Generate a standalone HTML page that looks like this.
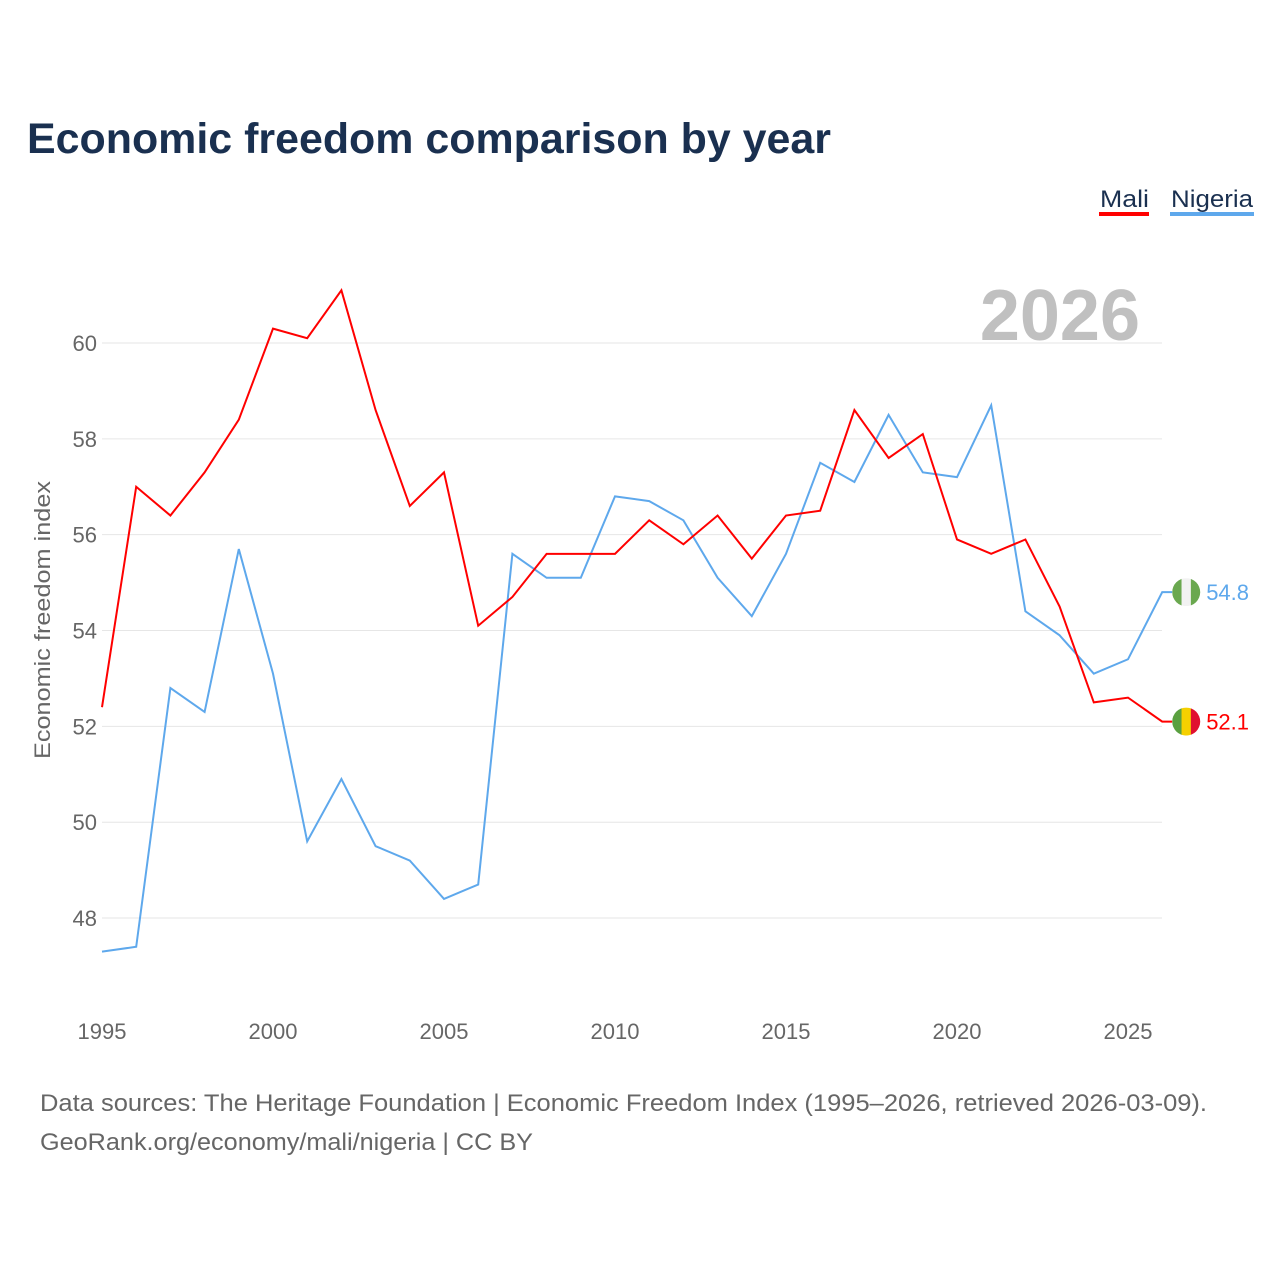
<!DOCTYPE html>
<html><head><meta charset="utf-8"><style>
body{margin:0;background:#fff;font-family:"Liberation Sans",sans-serif;}
svg text{font-family:"Liberation Sans",sans-serif;}
</style></head><body>
<svg id="chart" width="1280" height="1280" viewBox="0 0 1280 1280">
<text x="27" y="153" font-size="43" font-weight="bold" fill="#1a3050" textLength="804" lengthAdjust="spacingAndGlyphs">Economic freedom comparison by year</text>
<g><text x="1100" y="207" font-size="24" fill="#1a3050" textLength="49" lengthAdjust="spacingAndGlyphs">Mali</text><rect x="1099" y="212" width="50" height="4" fill="#ff0000"/></g>
<g><text x="1171" y="207" font-size="24" fill="#1a3050" textLength="82" lengthAdjust="spacingAndGlyphs">Nigeria</text><rect x="1170" y="212" width="84" height="4" fill="#5ea8ec"/></g>
<text x="1140" y="340" font-size="72" font-weight="bold" fill="#c0c0c0" text-anchor="end">2026</text>
<g id="grid"></g><g id="series"></g>
<text transform="translate(50,620) rotate(-90)" font-size="22" fill="#666" text-anchor="middle" textLength="278" lengthAdjust="spacingAndGlyphs">Economic freedom index</text>
<text x="40" y="1111" font-size="24" fill="#666" textLength="1167" lengthAdjust="spacingAndGlyphs">Data sources: The Heritage Foundation | Economic Freedom Index (1995–2026, retrieved 2026-03-09).</text>
<text x="40" y="1150" font-size="24" fill="#666" textLength="493" lengthAdjust="spacingAndGlyphs">GeoRank.org/economy/mali/nigeria | CC BY</text>
</svg>
<script>
const years=[1995,1996,1997,1998,1999,2000,2001,2002,2003,2004,2005,2006,2007,2008,2009,2010,2011,2012,2013,2014,2015,2016,2017,2018,2019,2020,2021,2022,2023,2024,2025,2026];
const mali=[52.4,57.0,56.4,57.3,58.4,60.3,60.1,61.1,58.6,56.6,57.3,54.1,54.7,55.6,55.6,55.6,56.3,55.8,56.4,55.5,56.4,56.5,58.6,57.6,58.1,55.9,55.6,55.9,54.5,52.5,52.6,52.1];
const nigeria=[47.3,47.4,52.8,52.3,55.7,53.1,49.6,50.9,49.5,49.2,48.4,48.7,55.6,55.1,55.1,56.8,56.7,56.3,55.1,54.3,55.6,57.5,57.1,58.5,57.3,57.2,58.7,54.4,53.9,53.1,53.4,54.8];
const yTicks=[48,50,52,54,56,58,60];
const xTicks=[1995,2000,2005,2010,2015,2020,2025];
const X=y=>102+(y-1995)*34.2;
const Y=v=>343+(60-v)*47.92;
const NS="http://www.w3.org/2000/svg";
const grid=document.getElementById('grid'),ser=document.getElementById('series');
function mk(tag,attrs,parent){const e=document.createElementNS(NS,tag);for(const k in attrs)e.setAttribute(k,attrs[k]);parent.appendChild(e);return e;}
yTicks.forEach(t=>{
 const l=mk('line',{x1:102,x2:1162,y1:Y(t),y2:Y(t),stroke:'#e6e6e6','stroke-width':1},grid);
 
 
 const tx=mk('text',{x:97,y:Y(t)+8,'font-size':22,fill:'#666','text-anchor':'end'},grid);tx.textContent=t;
 
 
});
xTicks.forEach(t=>{
 const tx=mk('text',{x:X(t),y:1039,'font-size':22,fill:'#666','text-anchor':'middle'},grid);tx.textContent=t;
 
 
});
function draw(vals,color,name,flag){
 const lx=X(years[years.length-1])+24,ly=Y(vals[vals.length-1]);
 const pts=vals.map((v,i)=>X(years[i])+','+Y(v));
 pts.push((lx-14)+','+ly);
 const p=mk('polyline',{points:pts.join(' '),fill:'none',stroke:color,'stroke-width':2},ser);
 
 
 const g=mk('g',{},ser);
 
 
 const cp=mk('clipPath',{id:'c'+name},g);mk('circle',{cx:lx,cy:ly,r:14},cp);
 flag.forEach((c,i)=>mk('rect',{x:lx-14+i*28/3,y:ly-14,width:28/3+0.5,height:28,fill:c,'clip-path':'url(#c'+name+')'},g));
 const tx=mk('text',{x:lx+20,y:ly+8,'font-size':22,fill:color},ser);tx.textContent=vals[vals.length-1].toFixed(1);
 
 
}
draw(nigeria,'#5ea8ec','nigeria',['#6aa84f','#f2f2f2','#6aa84f']);
draw(mali,'#ff0000','mali',['#5aa040','#f5d000','#e01030']);
</script>
</body></html>
